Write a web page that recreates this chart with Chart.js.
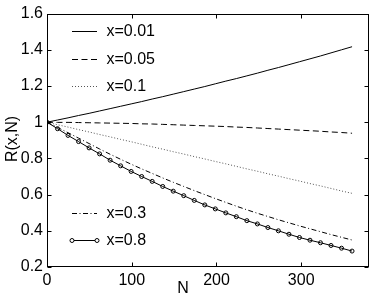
<!DOCTYPE html>
<html><head><meta charset="utf-8">
<script src="https://cdn.jsdelivr.net/npm/chart.js@4"></script>
<style>html,body{margin:0;padding:0;background:#fff}#c{display:block}</style>
</head><body>
<canvas id="c" width="374" height="301"></canvas>
<script>
// ---- data ----
const N = [0, 12.41, 24.83, 37.24, 49.66, 62.07, 74.48, 86.90, 99.31, 111.72,
  124.14, 136.55, 148.97, 161.38, 173.79, 186.21, 198.62, 211.03, 223.45, 235.86,
  248.28, 260.69, 273.10, 285.52, 297.93, 310.34, 322.76, 335.17, 347.59, 360];
const r001 = [1.000, 1.012, 1.024, 1.037, 1.049, 1.062, 1.075, 1.088, 1.101, 1.114,
  1.128, 1.141, 1.155, 1.169, 1.183, 1.197, 1.212, 1.227, 1.241, 1.256,
  1.271, 1.287, 1.302, 1.318, 1.334, 1.350, 1.366, 1.383, 1.400, 1.417];
const r005 = [1.000, 0.999, 0.999, 0.998, 0.997, 0.996, 0.995, 0.994, 0.993, 0.991,
  0.990, 0.988, 0.986, 0.984, 0.982, 0.980, 0.978, 0.976, 0.973, 0.971,
  0.968, 0.965, 0.962, 0.959, 0.956, 0.953, 0.950, 0.946, 0.943, 0.939];
const r01 = [1.000, 0.986, 0.973, 0.959, 0.946, 0.932, 0.919, 0.905, 0.892, 0.878,
  0.864, 0.851, 0.837, 0.824, 0.810, 0.797, 0.783, 0.770, 0.756, 0.742,
  0.729, 0.715, 0.702, 0.688, 0.675, 0.661, 0.648, 0.634, 0.620, 0.607];
const r03 = [1.000, 0.971, 0.942, 0.912, 0.882, 0.852, 0.823, 0.795, 0.768, 0.742,
  0.717, 0.692, 0.668, 0.645, 0.622, 0.600, 0.578, 0.557, 0.536, 0.516,
  0.497, 0.479, 0.461, 0.444, 0.427, 0.411, 0.395, 0.379, 0.364, 0.349];
const r08 = [1.000, 0.964, 0.927, 0.893, 0.858, 0.825, 0.790, 0.759, 0.728, 0.700,
  0.673, 0.645, 0.619, 0.594, 0.568, 0.543, 0.521, 0.499, 0.478, 0.456,
  0.438, 0.418, 0.400, 0.381, 0.363, 0.348, 0.334, 0.319, 0.304, 0.288];
const seriesLabels = ['x=0.01', 'x=0.05', 'x=0.1', 'x=0.3', 'x=0.8'];
const xTicks = [0, 100, 200, 300];
const xTickLabels = ['0', '100', '200', '300'];
const yTicks = [0.2, 0.4, 0.6, 0.8, 1.0, 1.2, 1.4, 1.6];
const yTickLabels = ['0.2', '0.4', '0.6', '0.8', '1', '1.2', '1.4', '1.6'];
const xTitle = 'N';
const yTitle = 'R(x,N)';

// ---- styles ----
const FONT = '"Liberation Sans", Arial, Helvetica, sans-serif';
const FS = 16;
const styles = [
  {color: '#000', dash: [], marker: false},
  {color: '#000', dash: [6, 3.5], marker: false},
  {color: '#555', dash: [1, 2], marker: false},
  {color: '#000', dash: [5, 2.5, 1, 2.5], marker: false},
  {color: '#000', dash: [], marker: true}
];
const allSeries = [r001, r005, r01, r03, r08];

const datasets = allSeries.map((vals, k) => ({
  label: seriesLabels[k],
  data: N.map((n, i) => ({x: n, y: vals[i]})),
  borderColor: styles[k].color,
  borderWidth: 1,
  borderDash: styles[k].dash,
  pointRadius: styles[k].marker ? 2 : 0,
  pointBorderWidth: 1,
  pointBorderColor: '#000',
  pointBackgroundColor: 'rgba(0,0,0,0)',
  tension: 0,
  fill: false
}));

const frame = {
  id: 'frame',
  afterDraw(chart) {
    const ctx = chart.ctx, a = chart.chartArea;
    const xs = chart.scales.x, ys = chart.scales.y;
    ctx.save();
    ctx.strokeStyle = '#000';
    ctx.lineWidth = 1;
    ctx.setLineDash([]);
    const L = Math.round(a.left) + 0.5, R = Math.round(a.right) - 0.5;
    const T = Math.round(a.top) + 0.5, B = Math.round(a.bottom) - 0.5;
    ctx.strokeRect(L, T, R - L, B - T);
    const tl = 4;
    ctx.beginPath();
    xTicks.forEach(v => {
      const px = Math.round(xs.getPixelForValue(v)) + 0.5;
      ctx.moveTo(px, B); ctx.lineTo(px, B - tl);
      ctx.moveTo(px, T); ctx.lineTo(px, T + tl);
    });
    yTicks.forEach(v => {
      const py = Math.round(ys.getPixelForValue(v)) + 0.5;
      ctx.moveTo(L, py); ctx.lineTo(L + tl, py);
      ctx.moveTo(R, py); ctx.lineTo(R - tl, py);
    });
    ctx.stroke();

    // axis titles
    ctx.fillStyle = '#000';
    ctx.font = FS + 'px ' + FONT;
    ctx.textAlign = 'center';
    ctx.textBaseline = 'alphabetic';
    ctx.fillText(xTitle, 183, 292.5);
    ctx.save();
    ctx.translate(17, 139);
    ctx.rotate(-Math.PI / 2);
    ctx.fillText(yTitle, 0, 0);
    ctx.restore();

    // legend
    const legendPos = [[72, 30.7], [72, 59.3], [72, 86], [72, 212.7], [72, 240]];
    ctx.textAlign = 'left';
    ctx.textBaseline = 'middle';
    legendPos.forEach((p, k) => {
      const st = styles[k];
      ctx.strokeStyle = st.color;
      ctx.setLineDash(st.dash);
      ctx.beginPath();
      ctx.moveTo(p[0], Math.round(p[1]) + 0.5);
      ctx.lineTo(p[0] + 25, Math.round(p[1]) + 0.5);
      ctx.stroke();
      ctx.setLineDash([]);
      if (st.marker) {
        [p[0], p[0] + 25].forEach(cx => {
          ctx.beginPath();
          ctx.arc(cx, Math.round(p[1]) + 0.5, 2, 0, Math.PI * 2);
          ctx.fillStyle = '#fff';
          ctx.fill();
          ctx.strokeStyle = '#000';
          ctx.stroke();
        });
      }
      ctx.fillStyle = '#000';
      ctx.fillText(seriesLabels[k], 106.5, p[1] + 0.5);
    });
    ctx.restore();
  }
};

new Chart(document.getElementById('c'), {
  type: 'line',
  data: {datasets},
  options: {
    responsive: false,
    animation: false,
    devicePixelRatio: 1,
    layout: {padding: {top: 12, right: 3, left: 0, bottom: 0}},
    plugins: {legend: {display: false}, tooltip: {enabled: false}},
    scales: {
      x: {
        type: 'linear', min: 0, max: 380,
        afterBuildTicks: s => { s.ticks = xTicks.map(v => ({value: v})); },
        afterFit: s => { s.height = 34; },
        grid: {display: false, drawTicks: false},
        border: {display: false},
        ticks: {color: '#000', font: {family: FONT, size: FS}, padding: 4, maxRotation: 0, autoSkip: false,
          callback: (v, i) => xTickLabels[i]}
      },
      y: {
        type: 'linear', min: 0.2, max: 1.6,
        afterBuildTicks: s => { s.ticks = yTicks.map(v => ({value: v})); },
        afterFit: s => { s.width = 47; },
        grid: {display: false, drawTicks: false},
        border: {display: false},
        ticks: {color: '#000', font: {family: FONT, size: FS}, padding: 4, autoSkip: false,
          callback: (v, i) => yTickLabels[i]}
      }
    }
  },
  plugins: [frame]
});
</script>
</body></html>
